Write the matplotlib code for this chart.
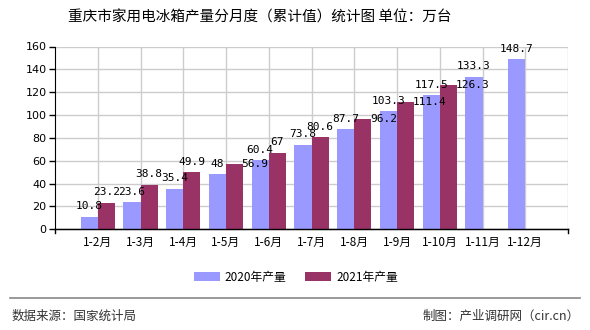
import matplotlib
matplotlib.use("Agg")
import matplotlib.pyplot as plt
import numpy as np
from matplotlib.lines import Line2D
from matplotlib.patches import Patch

plt.rcParams['font.family'] = ['Noto Sans CJK SC', 'DejaVu Sans']

categories = ["1-2月", "1-3月", "1-4月", "1-5月", "1-6月", "1-7月", "1-8月",
              "1-9月", "1-10月", "1-11月", "1-12月"]
values_2020 = [10.8, 23.6, 35.4, 48, 60.4, 73.8, 87.7, 103.3, 117.5, 133.3, 148.7]
values_2021 = [23.2, 38.8, 49.9, 56.9, 67, 80.6, 96.2, 111.4, 126.3, None, None]
series_names = ["2020年产量", "2021年产量"]
yticks = [0, 20, 40, 60, 80, 100, 120, 140, 160]
side_labels_2021 = {3, 6, 7, 8}  # labels drawn beside the bar

c2020 = "#9999FF"
c2021 = "#993366"

fig = plt.figure(figsize=(5.9, 3.3), dpi=100)
ax = fig.add_axes([55/590, 1 - 229.3/330, (568-55)/590, (229.3-46.5)/330])

x = np.arange(1, len(categories) + 1)
w = 0.4
ax.bar(x - w/2, values_2020, width=w, color=c2020, zorder=3)
n21 = sum(v is not None for v in values_2021)
ax.bar(x[:n21] + w/2, values_2021[:n21], width=w, color=c2021, zorder=3)

lab_font = dict(family='DejaVu Sans Mono', fontsize=8, color='black', zorder=5)

def fmt(v):
    return f"{v:g}"

for xi, v in zip(x, values_2020):
    ax.annotate(fmt(v), (xi - w/2, v), xytext=(0, 4), textcoords='offset points',
                ha='center', va='bottom', **lab_font)
for i, (xi, v) in enumerate(zip(x[:n21], values_2021[:n21])):
    if i in side_labels_2021:
        ax.annotate(fmt(v), (xi + w, v), xytext=(-1, 0), textcoords='offset points',
                    ha='left', va='center', **lab_font)
    else:
        ax.annotate(fmt(v), (xi + w/2, v), xytext=(0, 4), textcoords='offset points',
                    ha='center', va='bottom', **lab_font)

ax.set_xlim(0, 12)
ax.set_ylim(0, 160)
ax.set_yticks(yticks)
ax.set_yticklabels([str(t) for t in yticks], fontsize=8, family='DejaVu Sans')
ax.set_xticks(x)
ax.set_xticklabels(categories, fontsize=8.5)
ax.tick_params(axis='x', length=0, pad=5)
ax.tick_params(axis='y', length=4, width=1, direction='out', pad=2)

ax.grid(True, color='#cccccc', linewidth=1, zorder=0)
ax.set_axisbelow(True)
for s in ['top', 'right']:
    ax.spines[s].set_visible(False)
ax.spines['left'].set_color('black')
ax.spines['bottom'].set_color('black')
ax.axvline(12, color='#cccccc', linewidth=1, zorder=0)
ax.plot([0, 12], [0, 0], color='black', lw=1, clip_on=False, zorder=4)
for xt in [0, 12]:
    ax.plot([xt, xt], [0, -3], color='black', lw=1, clip_on=False, zorder=4)

fig.text(260/590, 1 - 18/330, "重庆市家用电冰箱产量分月度（累计值）统计图 单位：万台",
         ha='center', va='center', fontsize=10.5, color='black')

handles = [Patch(facecolor=c2020, edgecolor='none'), Patch(facecolor=c2021, edgecolor='none')]
fig.legend(handles, series_names, loc='center', bbox_to_anchor=(296/590, 1 - 277/330),
           ncol=2, frameon=False, fontsize=8.5, handlelength=2.2, handleheight=0.8,
           columnspacing=1.6, handletextpad=0.4)

fig.add_artist(Line2D([10/590, 580/590], [1 - 298/330, 1 - 298/330], color='#888888', lw=1.2))
fig.text(12/590, 1 - 316/330, "数据来源：国家统计局", ha='left', va='center', fontsize=9, color='#333333')
fig.text(580/590, 1 - 316/330, "制图：产业调研网（cir.cn）", ha='right', va='center', fontsize=9, color='#333333')

fig.savefig("out.png", dpi=100)
